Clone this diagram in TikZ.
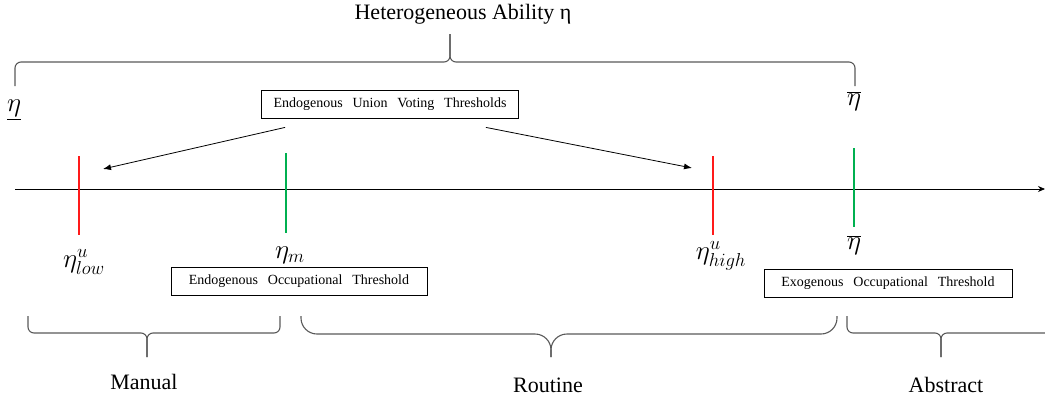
\documentclass[tikz,border=0pt]{standalone}
\usepackage{fontspec}
\setmainfont{Liberation Serif}
\usetikzlibrary{arrows.meta,positioning}
\definecolor{thrRed}{HTML}{FF1A1A}
\definecolor{thrGreen}{HTML}{00B050}
\definecolor{brcGrey}{HTML}{595959}
\newcommand{\wbrace}[7][6]{%
  \draw[brc,rounded corners=#1] (#2,#5) -- (#2,#6) -- (#4,#6) -- (#4,#7);
  \draw[brc,rounded corners=#1] (#3,#5) -- (#3,#6) -- (#4,#6) -- (#4,#7);}
\begin{document}
\begin{tikzpicture}[x=1pt,y=-1pt,
  box/.style={draw,line width=0.8pt,minimum height=28pt,inner sep=0pt,
    font={\fontsize{14}{16}\selectfont\spaceskip=0.7em}},
  lab/.style={font=\fontsize{22}{26}\selectfont},
  mlab/.style={font=\fontsize{20.74}{24}\selectfont,inner sep=0pt,scale=1.3,transform shape},
  tick/.style={line width=1.6pt,#1},
  brc/.style={draw=brcGrey,line width=1.1pt},
  arr/.style={-{Latex[length=8pt,width=6pt]},line width=0.8pt}]
\clip (0,0) rectangle (1045,400);
\node[lab,anchor=base] (title) at (463,19) {Heterogeneous Ability η};
\node[box,minimum width=257pt] (union) at (390,104) {Endogenous Union Voting Thresholds};
\node[box,minimum width=256pt] (endo) at (299,281) {Endogenous Occupational Threshold};
\node[box,minimum width=248pt] (exo) at (888,283) {Exogenous Occupational Threshold};
\node[mlab] (etamin) at (14,110) {$\underline{\eta}$};
\node[mlab] (etamax) at (854,101) {$\overline{\eta}$};
\node[mlab] (low) at (84,262) {$\eta^{u}_{low}$};
\node[mlab] (mid) at (290,255) {$\eta_{m}$};
\node[mlab] (high) at (721,256) {$\eta^{u}_{high}$};
\node[mlab] (exoeta) at (854,245) {$\overline{\eta}$};
\node[lab,anchor=base] (manual) at (144,389) {Manual};
\node[lab,anchor=base] (routine) at (548,392) {Routine};
\node[lab,anchor=base] (abstract) at (946,392) {Abstract};
\coordinate (left) at (15,189);
\coordinate (right) at (1045,189);
\coordinate (lowtip) at (103,169);
\coordinate (hightip) at (692,168);
\draw[-{Stealth[length=7pt,width=6pt]},line width=0.8pt] (left) -- (right);
\draw[tick=thrRed] (79,156) -- (79,235);
\draw[tick=thrGreen] (286,153) -- (286,233);
\draw[tick=thrRed] (713,156) -- (713,235);
\draw[tick=thrGreen] (854,148) -- (854,227);
\draw[arr] ([xshift=24pt,yshift=-9pt]union.south west) -- (lowtip);
\draw[arr] ([xshift=-33pt,yshift=-9pt]union.south east) -- (hightip);
\wbrace{15}{855}{450}{86}{62}{34}
\wbrace{28}{280}{147}{316}{333}{357}
\wbrace[16]{301}{837}{551}{316}{334}{357}
\wbrace{847}{1070}{941}{316}{333}{357}
\end{tikzpicture}
\end{document}
